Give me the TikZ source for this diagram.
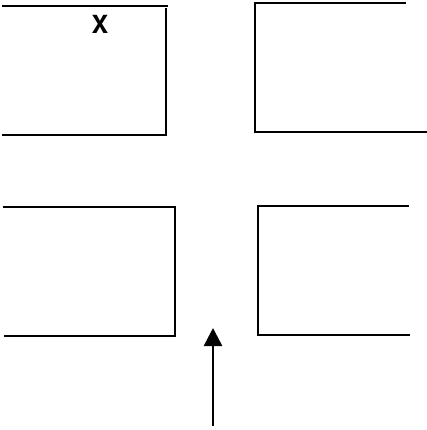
\documentclass[tikz,border=0pt]{standalone}
\usepackage{fontspec}
\setsansfont{TeX Gyre Heros}
\usetikzlibrary{arrows.meta}
\begin{document}
\begin{tikzpicture}[x=1pt,y=-1pt,
  wall/.style={line width=2.6pt,line cap=rect,line join=miter},
  arrowline/.style={line width=2.6pt,-{Triangle[length=18pt,width=18pt]}},
  lbl/.style={font=\sffamily\bfseries\fontsize{25}{25}\selectfont,inner sep=0pt}]
\useasboundingbox (0,0) rectangle (427,430);
% top-left block
\draw[wall] (3,6) -- (167,6) (166,9) -- (166,135) -- (3,135);
% top-right block
\draw[wall] (405,3) -- (255,3) -- (255,132) -- (427,132);
% bottom-left block
\draw[wall] (4,207) -- (175,207) -- (175,336) -- (5,336);
% bottom-right block
\draw[wall] (408,206) -- (258,206) -- (258,335) -- (409,335);
% label
\node[lbl] (x) at (100,24) {X};
% arrow
\coordinate (tail) at (213,426);
\coordinate (tip) at (213,328);
\draw[arrowline] (tail) -- (tip);
\end{tikzpicture}
\end{document}
